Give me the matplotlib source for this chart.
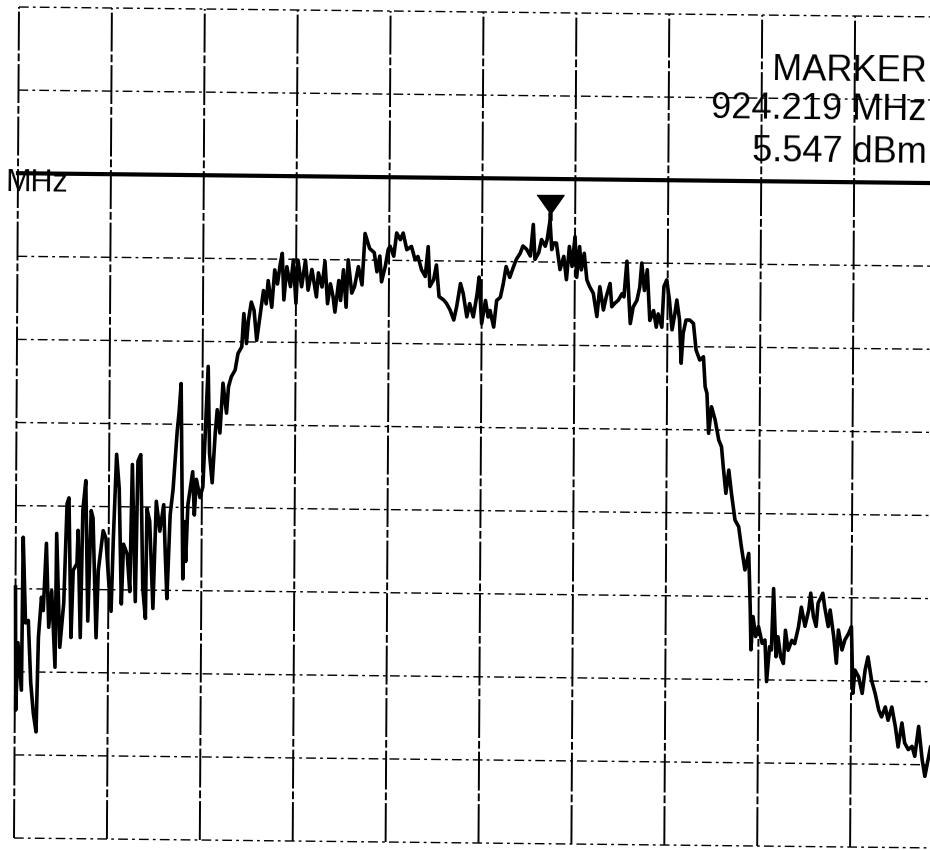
import numpy as np
import matplotlib
matplotlib.use("Agg")
import matplotlib.pyplot as plt
from matplotlib.transforms import Affine2D

# spectrum analyzer screen, 10 x 10 divisions (trace values in divisions)
grid_x = list(range(11))
grid_y = list(range(11))
ref_level = 8.0

trace_x = [
    0.00, 0.01, 0.03, 0.07, 0.08, 0.11, 0.14, 0.17, 0.20, 0.23, 0.25, 0.28, 0.30, 0.33, 0.36, 0.39,
    0.43, 0.44, 0.48, 0.52, 0.55, 0.57, 0.60, 0.62, 0.66, 0.67, 0.70, 0.72, 0.75, 0.78, 0.81, 0.83,
    0.87, 0.89, 0.94, 0.97, 1.00, 1.03, 1.05, 1.08, 1.11, 1.14, 1.16, 1.20, 1.23, 1.25, 1.29, 1.31,
    1.34, 1.37, 1.40, 1.41, 1.44, 1.48, 1.51, 1.55, 1.59, 1.61, 1.63, 1.66, 1.69, 1.73, 1.75, 1.77,
    1.80, 1.81, 1.83, 1.85, 1.90, 1.92, 1.94, 1.98, 2.01,
    2.06, 2.08, 2.11, 2.14, 2.16, 2.19, 2.22, 2.26, 2.28, 2.31, 2.35, 2.38, 2.42, 2.44, 2.47, 2.49,
    2.52, 2.55, 2.58, 2.61, 2.65, 2.68, 2.70, 2.74, 2.77, 2.80, 2.83, 2.85, 2.87, 2.90, 2.94, 2.97,
    3.00, 3.02, 3.06, 3.10, 3.13, 3.17, 3.22, 3.24, 3.28, 3.31, 3.34, 3.37, 3.40, 3.42, 3.46, 3.48,
    3.51, 3.54, 3.56, 3.60, 3.63, 3.67, 3.71, 3.74, 3.79, 3.84, 3.87, 3.90, 3.92, 3.96, 3.99,
    4.01, 4.05, 4.08, 4.12, 4.15, 4.19, 4.24, 4.28, 4.31, 4.35, 4.39, 4.42, 4.44, 4.48, 4.51, 4.54,
    4.59, 4.62, 4.66, 4.70, 4.73, 4.77, 4.80, 4.84, 4.87, 4.91, 4.95, 4.97, 5.00, 5.04, 5.07, 5.09,
    5.13, 5.16, 5.20, 5.23, 5.26, 5.30, 5.34, 5.37, 5.41, 5.44, 5.48, 5.52, 5.55, 5.57, 5.61, 5.64,
    5.68, 5.70, 5.73, 5.75, 5.77, 5.80, 5.84, 5.88, 5.91, 5.94, 5.97, 6.00,
    6.02, 6.05, 6.07, 6.10, 6.13, 6.16, 6.20, 6.24, 6.27, 6.31, 6.34, 6.38, 6.40, 6.43, 6.47, 6.51,
    6.53, 6.56, 6.60, 6.63, 6.67, 6.70, 6.72, 6.75, 6.78, 6.81, 6.85, 6.88, 6.90, 6.94, 6.96, 6.99,
    7.02, 7.05, 7.08, 7.10, 7.13, 7.15, 7.17, 7.20, 7.24, 7.28, 7.31, 7.35, 7.39, 7.41, 7.43, 7.45,
    7.48, 7.52, 7.56, 7.59, 7.61, 7.64, 7.67, 7.70, 7.74, 7.78, 7.81, 7.85, 7.89, 7.90,
    7.91, 7.92, 7.94, 7.97, 8.00, 8.04, 8.07, 8.09, 8.12, 8.14, 8.16, 8.19, 8.21, 8.24, 8.27, 8.29,
    8.32, 8.36, 8.39, 8.43, 8.46, 8.50, 8.54, 8.56, 8.59, 8.62, 8.64, 8.69, 8.71, 8.75, 8.77, 8.81,
    8.84, 8.86, 8.90, 8.93, 8.97, 9.00, 9.02, 9.04, 9.08, 9.12, 9.15, 9.18, 9.22, 9.26, 9.30, 9.33,
    9.37, 9.40, 9.44, 9.48, 9.51, 9.55, 9.58, 9.62, 9.66, 9.69, 9.73, 9.77, 9.80, 9.84, 9.86, 10.00,
]
trace_y = [
    3.02, 1.54, 2.35, 1.78, 3.62, 2.59, 2.62, 1.87, 1.50, 1.28, 2.42, 2.90, 2.74, 3.55, 2.54, 2.98,
    2.06, 3.67, 2.30, 2.83, 4.03, 4.10, 2.42, 3.23, 3.31, 3.71, 2.42, 3.95, 4.31, 2.62, 3.95, 3.86,
    2.42, 3.23, 3.71, 3.62, 3.14, 2.74, 3.62, 4.63, 4.22, 2.83, 3.55, 3.43, 2.98, 4.51, 2.86, 4.55,
    4.63, 3.02, 2.66, 3.98, 3.83, 2.78, 4.07, 3.71, 4.03, 3.43, 2.90, 3.91, 4.22, 4.91, 5.15, 5.49,
    3.14, 3.83, 3.35, 4.03, 4.43, 3.91, 4.34, 4.12, 4.25,
    5.70, 4.65, 4.30, 4.90, 5.18, 4.90, 5.50, 5.14, 5.46, 5.58, 5.66, 5.86, 5.94, 6.34, 5.98, 6.26,
    6.48, 6.38, 6.02, 6.28, 6.62, 6.46, 6.74, 6.42, 6.87, 6.70, 6.95, 7.07, 6.51, 6.91, 6.67, 6.99,
    6.47, 6.99, 6.67, 6.99, 6.63, 6.88, 6.55, 6.84, 6.67, 6.98, 6.47, 6.71, 6.55, 6.37, 6.75, 6.51,
    6.88, 6.43, 7.00, 6.60, 6.68, 6.92, 6.70, 7.32, 7.14, 7.09, 6.86, 7.05, 6.74, 6.93, 7.13,
    7.17, 7.05, 7.33, 7.25, 7.33, 7.13, 7.17, 7.01, 7.05, 6.89, 6.81, 7.17, 6.69, 6.77, 6.95, 6.57,
    6.53, 6.49, 6.41, 6.29, 6.45, 6.73, 6.61, 6.33, 6.49, 6.33, 6.61, 6.81, 6.25, 6.53, 6.33, 6.41,
    6.21, 6.53, 6.57, 6.73, 6.94, 6.81, 6.94, 7.03, 7.10, 7.19, 7.15, 7.07, 7.45, 7.03, 7.11, 7.27,
    7.19, 7.27, 7.50, 7.15, 7.23, 7.23, 6.91, 7.07, 6.79, 7.19, 6.95, 7.31,
    6.82, 7.19, 6.91, 7.11, 6.79, 6.71, 6.63, 6.35, 6.71, 6.43, 6.59, 6.75, 6.47, 6.51, 6.55, 6.63,
    6.59, 7.02, 6.27, 6.47, 6.55, 6.71, 7.00, 6.67, 6.92, 6.31, 6.43, 6.23, 6.39, 6.23, 6.72, 6.80,
    6.56, 6.20, 6.40, 6.56, 6.32, 5.80, 6.16, 6.32, 6.32, 6.28, 5.96, 5.84, 5.88, 5.52, 5.44, 4.96,
    5.28, 5.12, 4.88, 4.80, 4.56, 4.24, 4.52, 4.24, 3.92, 3.84, 3.60, 3.32, 3.52, 3.20,
    2.84, 2.36, 2.76, 2.52, 2.64, 2.44, 2.48, 1.98, 2.40, 2.36, 3.10, 2.28, 2.52, 2.28, 2.20, 2.60,
    2.36, 2.48, 2.44, 2.64, 2.88, 2.65, 2.85, 3.05, 2.77, 2.65, 2.93, 3.05, 2.89, 2.65, 2.85, 2.53,
    2.21, 2.61, 2.37, 2.49, 2.57, 2.65, 1.85, 2.13, 2.05, 1.85, 2.13, 2.29, 2.01, 1.85, 1.65, 1.57,
    1.69, 1.53, 1.69, 1.45, 1.21, 1.50, 1.26, 1.18, 1.22, 1.10, 1.46, 1.06, 0.86, 1.10, 1.22, 1.00,
]

marker_x = 5.73
marker_y = 7.50
marker_lines = ["MARKER", "924.219 MHz", "5.547 dBm"]
marker_line_y = [9.22, 8.76, 8.24]
left_label = "MHz"

font = "Liberation Sans"

fig = plt.figure(figsize=(9.3, 8.5), dpi=100)
ax = fig.add_axes([14 / 930, 12 / 850, 929 / 930, 831 / 850])
ax.set_xlim(0, 10)
ax.set_ylim(0, 10)
ax.set_axis_off()

# the scanned plot is slightly skewed, apply the same skew to everything
x0, y0 = 14, 12
skew = Affine2D(np.array([[1.0, 0.006, -0.006 * y0],
                          [-0.0108, 1.0, 0.0108 * x0],
                          [0.0, 0.0, 1.0]]))
tr = ax.transData + skew

for gx in grid_x:
    ax.plot([gx, gx], [0, 10], color="black", lw=1.4, dashes=(20, 1.5, 4, 1.5),
            transform=tr, clip_on=False)
for gy in grid_y:
    ax.plot([0, 10], [gy, gy], color="black", lw=1.0, dashes=(7, 3, 2, 3),
            transform=tr, clip_on=False)

# reference line
ax.plot([0, 10], [ref_level, ref_level], color="black", lw=3, transform=tr, clip_on=False)

# trace
ax.plot(trace_x, trace_y, color="black", lw=2.6, transform=tr, clip_on=False)

# marker (funnel shape, tip on the trace)
funnel = [(-13.5, 25), (13.5, 25), (1.5, 8), (1.5, 0), (-1.5, 0), (-1.5, 8)]
ax.plot([marker_x], [marker_y], marker=funnel, ms=36, color="black", lw=0,
        transform=tr, clip_on=False)

for s, ty in zip(marker_lines, marker_line_y):
    ax.text(9.78, ty, s, ha="right", va="baseline", fontsize=26, family=font,
            color="black", rotation=-0.6, transform=tr, clip_on=False)

ax.text(-0.13, 7.78, left_label, ha="left", va="baseline", fontsize=22, family=font,
        color="black", rotation=-0.6, transform=tr, clip_on=False)

fig.savefig("out.png", dpi=100)
